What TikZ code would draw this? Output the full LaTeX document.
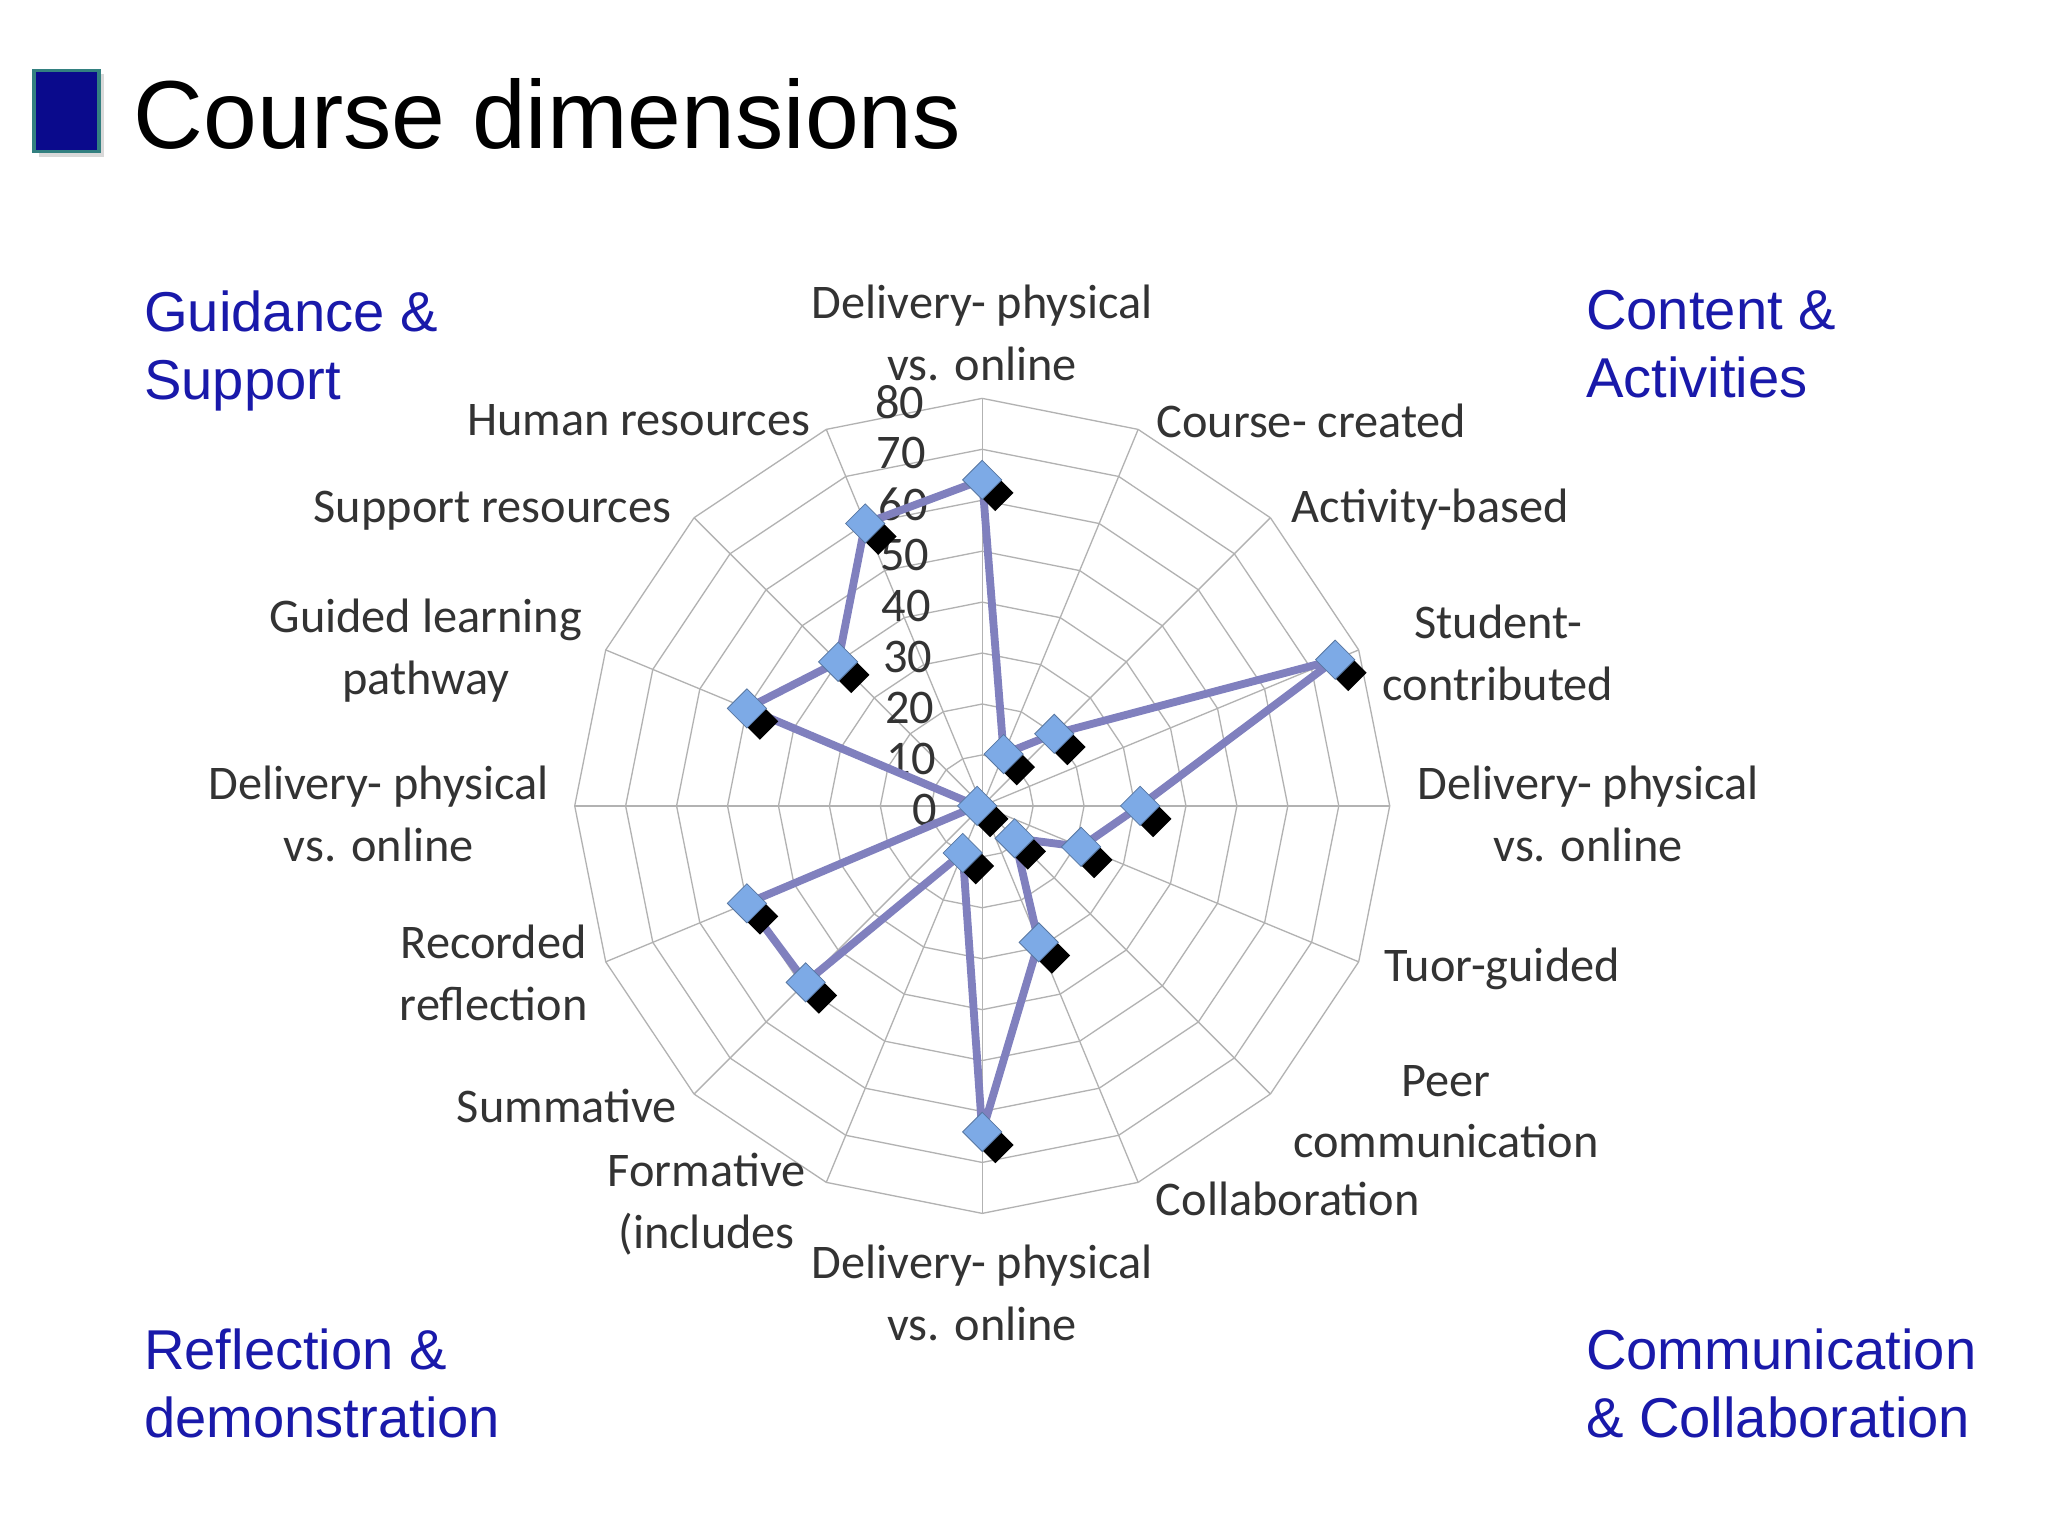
\documentclass[tikz,border=0pt]{standalone}
\usepackage{fontspec}
\usetikzlibrary{calc}
\setmainfont{Liberation Sans}
\newfontfamily\chartfont{Carlito}
\definecolor{navy}{RGB}{10,10,140}
\definecolor{corner}{RGB}{25,25,170}
\definecolor{series}{RGB}{128,128,190}
\definecolor{mark}{RGB}{125,170,230}
\tikzset{
  lab/.style={font=\chartfont\fontsize{18.5}{23.5}\selectfont, text=black!80, align=center, inner sep=0pt},
  tick/.style={font=\chartfont\fontsize{18.5}{20}\selectfont, text=black!80, anchor=east, inner sep=0pt},
  cornerlab/.style={font=\fontsize{21.5}{26}\selectfont, text=corner, align=left, anchor=north west, inner sep=0pt},
  gridl/.style={draw=black!30, line width=0.5pt},
  dmd/.style={fill=mark, draw=mark!70!black, line width=0.3pt},
}
\begin{document}
\begin{tikzpicture}[x=0.5pt,y=-0.5pt]
\useasboundingbox[fill=white] (0,0) rectangle (1568,1176);
% title
\fill[black!15] (30,57) rectangle (80,120);
\draw[fill=navy, draw=teal!60!gray, line width=1.5pt] (26,54) rectangle (76,116);
\node[anchor=west, inner sep=0pt, font=\fontsize{37}{40}\selectfont] (title) at (102,87) {Course dimensions};
% grid
\foreach \v in {10,20,...,80}{
  \foreach \k in {0,...,15}{
    \draw[gridl] ({752+3.9*\v*sin(22.5*\k)},{617-3.9*\v*cos(22.5*\k)}) -- ({752+3.9*\v*sin(22.5*(\k+1))},{617-3.9*\v*cos(22.5*(\k+1))});
  }
}
\foreach \k in {0,...,15}{
  \draw[gridl] (752,617) -- ({752+312*sin(22.5*\k)},{617-312*cos(22.5*\k)});
}
% ticks
\foreach \v in {0,10,...,80}{
  \node[tick] at ({718-\v/8},{620-3.9*\v}) {\v};
}
% data
\def\vals{64,11,20,75,31,21,9,29,64,10,49,50,1,50,40,60}
\foreach \val [count=\i from 0] in \vals{
  \coordinate (p\i) at ({752+3.9*\val*sin(22.5*\i)},{617-3.9*\val*cos(22.5*\i)});
}
\draw[series, line width=3pt, line join=round] (p0)--(p1)--(p2)--(p3)--(p4)--(p5)--(p6)--(p7)--(p8)--(p9)--(p10)--(p11)--(p12)--(p13)--(p14)--(p15)--cycle;
\foreach \i in {0,...,15}{
  \fill[black] ($(p\i)+(10,10)$) +(0,-14) -- +(14,0) -- +(0,14) -- +(-14,0) -- cycle;
  \draw[dmd] (p\i) +(0,-15) -- +(15,0) -- +(0,15) -- +(-15,0) -- cycle;
}
% axis labels
\node[lab] (l0) at (752,255) {Delivery- physical\\vs. online};
\node[lab] (l1) at (1004,322) {Course- created};
\node[lab] (l2) at (1095,390) {Activity-based};
\node[lab] (l3) at (1147,500) {Student-\\contributed};
\node[lab] (l4) at (1216,623) {Delivery- physical\\vs. online};
\node[lab] (l5) at (1150,742) {Tuor-guided};
\node[lab] (l6) at (1107,851) {Peer\\communication};
\node[lab] (l7) at (986,918) {Collaboration};
\node[lab] (l8) at (752,990) {Delivery- physical\\vs. online};
\node[lab] (l9) at (541,922) {Formative\\(includes};
\node[lab] (l10) at (434,847) {Summative};
\node[lab] (l11) at (378,745) {Recorded\\reflection};
\node[lab] (l12) at (290,623) {Delivery- physical\\vs. online};
\node[lab] (l13) at (326,498) {Guided learning\\pathway};
\node[lab] (l14) at (377,391) {Support resources};
\node[lab] (l15) at (489,322) {Human resources};
% corners
\node[cornerlab] (c1) at (110,222) {Guidance \&\\Support};
\node[cornerlab] (c2) at (1214,222) {Content \&\\Activities};
\node[cornerlab] (c3) at (110,1017) {Reflection \&\\demonstration};
\node[cornerlab] (c4) at (1214,1017) {Communication\\\& Collaboration};
\end{tikzpicture}
\end{document}
